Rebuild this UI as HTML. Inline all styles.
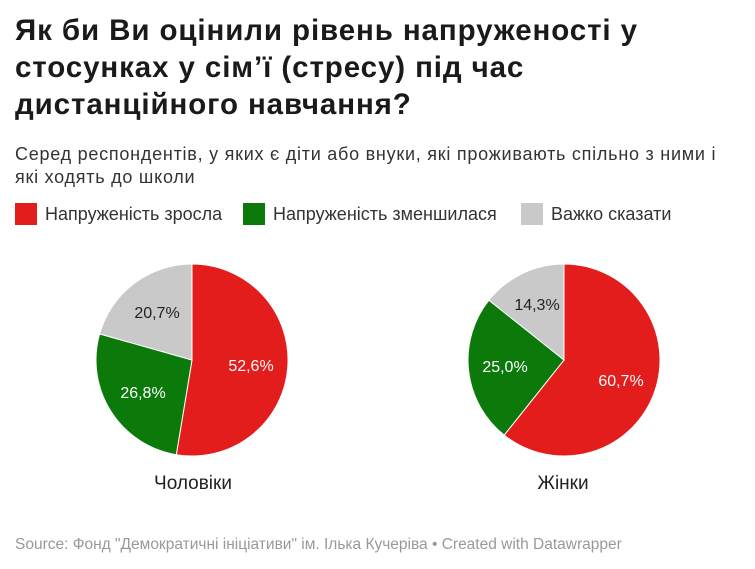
<!DOCTYPE html>
<html><head><meta charset="utf-8"><style>
body{margin:0;width:755px;height:569px;background:#fff;font-family:"Liberation Sans",sans-serif;color:#222;position:relative;overflow:hidden}
.t{position:absolute;left:15px;top:12px;font-size:29.5px;letter-spacing:0.9px;font-weight:bold;line-height:37px;color:#1a1a1a;white-space:nowrap}
.s{position:absolute;left:15px;top:143px;font-size:18px;letter-spacing:0.75px;line-height:23px;color:#333;white-space:nowrap}
.lg{position:absolute;top:203px;font-size:18px;color:#333;display:flex;align-items:center}
.lg i{display:inline-block;width:22px;height:22px;margin-right:8px}
.src{position:absolute;left:15px;top:536px;font-size:15.5px;color:#999;white-space:nowrap}
</style></head><body>
<div class="t">Як би Ви оцінили рівень напруженості у<br>стосунках у сім’ї (стресу) під час<br>дистанційного навчання?</div>
<div class="s">Серед респондентів, у яких є діти або внуки, які проживають спільно з ними і<br>які ходять до школи</div>
<div class="lg" style="left:15px"><i style="background:#e31c1c"></i>Напруженість зросла</div>
<div class="lg" style="left:243px"><i style="background:#0b7a0b"></i>Напруженість зменшилася</div>
<div class="lg" style="left:521px"><i style="background:#c9c9c9"></i>Важко сказати</div>
<svg width="755" height="569" style="position:absolute;left:0;top:0" font-family="Liberation Sans, sans-serif">
<path d="M192 360 L192 264 A96 96 0 1 1 176.3 454.7 Z" fill="#e31c1c" stroke="#fff" stroke-width="1"/>
<path d="M192 360 L176.3 454.7 A96 96 0 0 1 99.6 333.9 Z" fill="#0b7a0b" stroke="#fff" stroke-width="1"/>
<path d="M192 360 L99.6 333.9 A96 96 0 0 1 192 264 Z" fill="#c9c9c9" stroke="#fff" stroke-width="1"/>
<path d="M564 360 L564 264 A96 96 0 1 1 504.2 435.1 Z" fill="#e31c1c" stroke="#fff" stroke-width="1"/>
<path d="M564 360 L504.2 435.1 A96 96 0 0 1 488.9 300.2 Z" fill="#0b7a0b" stroke="#fff" stroke-width="1"/>
<path d="M564 360 L488.9 300.2 A96 96 0 0 1 564 264 Z" fill="#c9c9c9" stroke="#fff" stroke-width="1"/>
<g font-size="16" text-anchor="middle">
<text x="251" y="371" fill="#fff">52,6%</text>
<text x="143" y="398" fill="#fff">26,8%</text>
<text x="157" y="318" fill="#222">20,7%</text>
<text x="621" y="386" fill="#fff">60,7%</text>
<text x="505" y="372" fill="#fff">25,0%</text>
<text x="537" y="310" fill="#222">14,3%</text>
</g>
<g font-size="19" text-anchor="middle" fill="#222">
<text x="193" y="489">Чоловіки</text>
<text x="563" y="489">Жінки</text>
</g>
</svg>
<div class="src">Source: Фонд "Демократичні ініціативи" ім. Ілька Кучеріва • Created with Datawrapper</div>
</body></html>
